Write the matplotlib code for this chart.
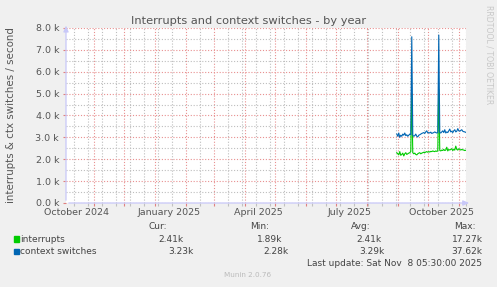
import matplotlib
matplotlib.use("Agg")
import matplotlib.pyplot as plt
import matplotlib.dates as mdates
from matplotlib.ticker import MultipleLocator, FixedLocator, NullFormatter
from matplotlib.patches import Rectangle
import pandas as pd
import numpy as np

# ---- data (per day) ----
start_date = "2025-08-31"
interrupts_k = [2.30, 2.25, 2.20, 2.35, 2.18, 2.22, 2.28, 2.15, 2.25, 2.30, 2.22, 2.25, 2.28, 2.30, 2.35,
                5.00,
                2.30, 2.25, 2.28, 2.22, 2.20, 2.25, 2.28, 2.30, 2.25, 2.28, 2.30, 2.32, 2.30, 2.33, 2.35,
                2.32, 2.35, 2.33, 2.36, 2.35, 2.38, 2.36, 2.35, 2.38, 2.36, 2.38,
                5.20,
                2.40, 2.38, 2.42, 2.40, 2.45, 2.40, 2.42, 2.55, 2.38, 2.45, 2.42, 2.45, 2.48, 2.40,
                2.45, 2.42, 2.60, 2.45, 2.42, 2.48, 2.45, 2.42, 2.45, 2.43, 2.42, 2.40, 2.41]
ctx_k = [3.15, 3.05, 3.20, 3.00, 3.10, 3.05, 3.15, 3.10, 3.20, 3.08, 3.12, 3.05, 3.10, 3.15, 3.12,
         7.60,
         3.10, 3.05, 3.08, 3.15, 3.05, 3.02, 3.10, 3.12, 3.15, 3.18, 3.20, 3.22, 3.18, 3.25, 3.30,
         3.20, 3.22, 3.20, 3.24, 3.18, 3.20, 3.22, 3.25, 3.22, 3.20, 3.22,
         7.68,
         3.22, 3.20, 3.25, 3.30, 3.22, 3.35, 3.20, 3.25, 3.22, 3.30, 3.38, 3.25, 3.28, 3.22,
         3.30, 3.35, 3.25, 3.28, 3.40, 3.30, 3.28, 3.32, 3.35, 3.28, 3.26, 3.25, 3.23]

series_names = ["interrupts", "context switches"]
series_colors = ["#00CC00", "#0066B3"]
cur_vals = ["2.41k", "3.23k"]
min_vals = ["1.89k", "2.28k"]
avg_vals = ["2.41k", "3.29k"]
max_vals = ["17.27k", "37.62k"]
x_labels = ["October 2024", "January 2025", "April 2025", "July 2025", "October 2025"]
x_label_dates = ["2024-10-15", "2025-01-15", "2025-04-15", "2025-07-15", "2025-10-15"]
y_ticks = [0, 1000, 2000, 3000, 4000, 5000, 6000, 7000, 8000]

W, H = 497, 287
def fx(x): return x / W
def fy(y): return 1 - y / H

fig = plt.figure(figsize=(W / 100, H / 100), dpi=100, facecolor="#F0F0F0")
ax = fig.add_axes([fx(66), fy(203), 400 / W, 175 / H])
ax.set_facecolor("white")

end = pd.Timestamp("2025-11-08 05:30")
beg = end - pd.Timedelta(days=400)
ax.set_xlim(beg, end)
ax.set_ylim(0, 8000)

dates = pd.date_range(start_date, periods=len(ctx_k), freq="D")
ax.plot(dates, np.array(interrupts_k) * 1000, color=series_colors[0], lw=0.8, zorder=3)
ax.plot(dates, np.array(ctx_k) * 1000, color=series_colors[1], lw=0.8, zorder=4)

# grid
month_starts = pd.date_range("2024-11-01", end, freq="MS")
minor_x = pd.date_range("2024-10-12", end, freq="14D")
ax.xaxis.set_major_locator(FixedLocator(mdates.date2num(month_starts)))
ax.xaxis.set_minor_locator(FixedLocator(mdates.date2num(minor_x)))
ax.xaxis.set_major_formatter(NullFormatter())
ax.yaxis.set_major_locator(FixedLocator(y_ticks))
ax.yaxis.set_minor_locator(MultipleLocator(500))
ax.set_yticklabels([f"{v/1000:.1f} k" for v in y_ticks])

ax.grid(which="major", color="#E89090", linestyle=(0, (1, 1.6)), linewidth=0.8, zorder=1)
ax.grid(which="minor", color="#BEBEBE", linestyle=(0, (1, 1.6)), linewidth=0.8, zorder=0)
ax.set_axisbelow(True)
ax.tick_params(which="major", axis="x", length=2, color="#E08080", width=0.8, direction="out")
ax.tick_params(which="minor", axis="x", length=2, color="#C0C0C0", width=0.8, direction="out")
ax.tick_params(which="major", axis="y", length=2, color="#E08080", width=0.8,
               labelsize=6.8, labelcolor="#555555", pad=3)
ax.tick_params(which="minor", axis="y", length=0)
for s in ax.spines.values():
    s.set_visible(False)

# axis arrows
axis_col = "#C8C8F8"
ax.annotate("", xy=(0, 1.03), xytext=(0, 0), xycoords="axes fraction",
            arrowprops=dict(arrowstyle="-|>,head_width=0.15,head_length=0.35", color=axis_col, lw=0.9),
            annotation_clip=False)
ax.annotate("", xy=(1.015, 0), xytext=(0, 0), xycoords="axes fraction",
            arrowprops=dict(arrowstyle="-|>,head_width=0.15,head_length=0.35", color=axis_col, lw=0.9),
            annotation_clip=False)

# x labels
for lab, d in zip(x_labels, x_label_dates):
    ax.text(pd.Timestamp(d), -0.055, lab, transform=ax.get_xaxis_transform(),
            ha="center", va="center", fontsize=6.8, color="#555555")

txt = "#555555"
fig.text(0.5, fy(21), "Interrupts and context switches - by year", ha="center", va="center",
         fontsize=8.2, color=txt)
fig.text(fx(11), fy(115), "interrupts & ctx switches / second", rotation=90,
         ha="center", va="center", fontsize=7.4, color=txt)
fig.text(fx(489), fy(5), "RRDTOOL / TOBI OETIKER", rotation=270, ha="center", va="top",
         fontsize=5.6, color="#C8C8C8")

# legend
lg = "#444444"
fs = 6.5
for x, t in zip([166.7, 269, 371, 476], ["Cur:", "Min:", "Avg:", "Max:"]):
    fig.text(fx(x), fy(226.7), t, ha="right", va="center", fontsize=fs, color=lg)
rows_y = [239, 251.7]
col_right = [[183.7, 282.7, 381, 482.7], [193.3, 288.7, 384.3, 482.7]]
for i in range(2):
    y = rows_y[i]
    fig.patches.append(Rectangle((fx(14), fy(y + 2.7)), 5.3 / W, 5.3 / H,
                                 transform=fig.transFigure, color=series_colors[i]))
    fig.text(fx(20.5), fy(y), series_names[i], ha="left", va="center", fontsize=fs, color=lg)
    for x, v in zip(col_right[i], [cur_vals[i], min_vals[i], avg_vals[i], max_vals[i]]):
        fig.text(fx(x), fy(y), v, ha="right", va="center", fontsize=fs, color=lg)
fig.text(fx(482), fy(263.3), "Last update: Sat Nov  8 05:30:00 2025", ha="right", va="center",
         fontsize=fs, color=lg)
fig.text(fx(248), fy(275), "Munin 2.0.76", ha="center", va="center", fontsize=5.2, color="#BBBBBB")

fig.savefig("out.png", dpi=100, facecolor=fig.get_facecolor())
